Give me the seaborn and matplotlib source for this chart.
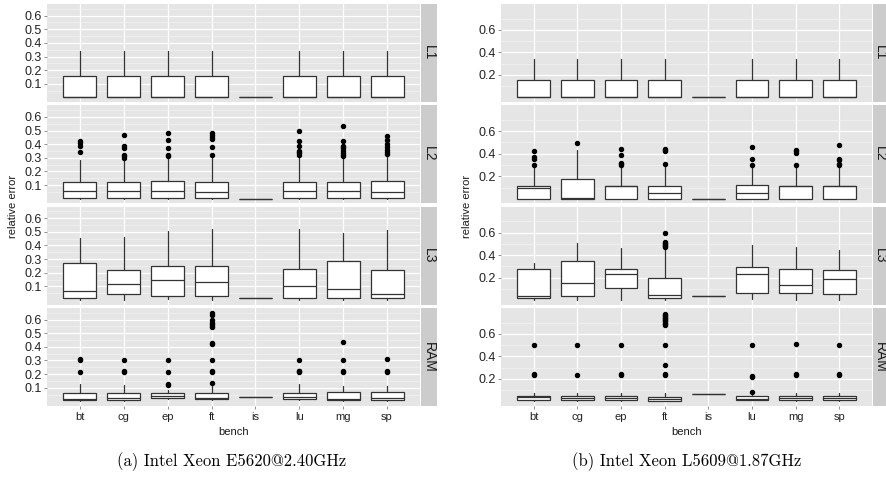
import matplotlib
matplotlib.use('Agg')
import matplotlib.pyplot as plt
import seaborn as sns

benches = ['bt', 'cg', 'ep', 'ft', 'is', 'lu', 'mg', 'sp']
levels = ['L1', 'L2', 'L3', 'RAM']

# box stats per bench: [whisker low, q1, median, q3, whisker high]
# (a) Intel Xeon E5620@2.40GHz
e5620_L1 = [[0.0, 0.003, 0.003, 0.155, 0.337]] * 4 + [[0.0, 0.0, 0.0, 0.0, 0.0]] + \
           [[0.0, 0.003, 0.003, 0.155, 0.337]] * 3
e5620_L1_out = [[]] * 8
e5620_L2 = [[0.0, 0.005, 0.055, 0.125, 0.285], [0.0, 0.005, 0.055, 0.12, 0.29],
            [0.0, 0.005, 0.06, 0.13, 0.30], [0.0, 0.005, 0.05, 0.125, 0.30],
            [0.0, 0.0, 0.0, 0.0, 0.0], [0.0, 0.005, 0.055, 0.125, 0.30],
            [0.0, 0.005, 0.06, 0.125, 0.30], [0.0, 0.005, 0.05, 0.13, 0.31]]
e5620_L2_out = [[0.34, 0.385, 0.41, 0.42], [0.30, 0.31, 0.32, 0.37, 0.385, 0.47],
                [0.31, 0.32, 0.37, 0.43, 0.485], [0.32, 0.38, 0.44, 0.455, 0.47, 0.48],
                [], [0.32, 0.335, 0.345, 0.35, 0.39, 0.42, 0.50],
                [0.31, 0.32, 0.335, 0.35, 0.37, 0.38, 0.39, 0.42, 0.535],
                [0.33, 0.345, 0.36, 0.38, 0.40, 0.43, 0.46]]
e5620_L3 = [[0.004, 0.018, 0.064, 0.275, 0.458], [0.004, 0.047, 0.119, 0.22, 0.463],
            [0.005, 0.033, 0.15, 0.249, 0.508], [0.004, 0.03, 0.136, 0.251, 0.523],
            [0.018, 0.018, 0.018, 0.018, 0.018], [0.004, 0.018, 0.105, 0.227, 0.523],
            [0.004, 0.018, 0.08, 0.288, 0.494], [0.004, 0.018, 0.047, 0.222, 0.516]]
e5620_L3_out = [[]] * 8
e5620_RAM = [[0.005, 0.007, 0.017, 0.063, 0.124], [0.005, 0.007, 0.024, 0.063, 0.119],
             [0.02, 0.024, 0.041, 0.063, 0.087], [0.01, 0.017, 0.024, 0.063, 0.114],
             [0.035, 0.035, 0.035, 0.035, 0.035], [0.01, 0.02, 0.03, 0.065, 0.125],
             [0.005, 0.012, 0.02, 0.07, 0.115], [0.005, 0.01, 0.025, 0.07, 0.11]]
e5620_RAM_out = [[0.215, 0.305, 0.31], [0.215, 0.22, 0.305], [0.12, 0.13, 0.215, 0.305],
                 [0.138, 0.215, 0.22, 0.305, 0.42, 0.43, 0.545, 0.555, 0.565, 0.575, 0.60, 0.63, 0.65],
                 [], [0.215, 0.22, 0.225, 0.305], [0.215, 0.225, 0.305, 0.435],
                 [0.215, 0.225, 0.31]]

# (b) Intel Xeon L5609@1.87GHz
l5609_L1 = [[0.0, 0.0, 0.0, 0.156, 0.34]] * 4 + [[0.0, 0.0, 0.0, 0.0, 0.0]] + \
           [[0.0, 0.0, 0.0, 0.156, 0.34]] * 3
l5609_L1_out = [[]] * 8
l5609_L2 = [[0.0, 0.0, 0.095, 0.118, 0.29], [0.0, 0.0, 0.005, 0.175, 0.43],
            [0.0, 0.0, 0.11, 0.112, 0.29], [0.0, 0.0, 0.05, 0.11, 0.29],
            [0.0, 0.0, 0.0, 0.0, 0.0], [0.0, 0.0, 0.05, 0.12, 0.29],
            [0.0, 0.0, 0.11, 0.115, 0.30], [0.0, 0.0, 0.11, 0.115, 0.29]]
l5609_L2_out = [[0.30, 0.35, 0.37, 0.425], [0.495], [0.30, 0.31, 0.32, 0.39, 0.44],
                [0.31, 0.42, 0.435, 0.445], [], [0.30, 0.35, 0.46],
                [0.30, 0.41, 0.42, 0.43], [0.30, 0.31, 0.34, 0.35, 0.475]]
l5609_L3 = [[0.003, 0.018, 0.038, 0.274, 0.332], [0.003, 0.035, 0.156, 0.35, 0.503],
            [0.003, 0.109, 0.23, 0.274, 0.465], [0.003, 0.02, 0.047, 0.2, 0.465],
            [0.032, 0.032, 0.032, 0.032, 0.032], [0.009, 0.062, 0.23, 0.297, 0.488],
            [0.003, 0.065, 0.135, 0.279, 0.468], [0.003, 0.053, 0.185, 0.265, 0.444]]
l5609_L3_out = [[], [], [], [0.47, 0.48, 0.49, 0.50, 0.51, 0.52, 0.594], [], [], [], []]
l5609_RAM = [[0.005, 0.016, 0.037, 0.052, 0.075], [0.005, 0.016, 0.028, 0.046, 0.075],
             [0.005, 0.016, 0.028, 0.048, 0.075], [0.0, 0.0, 0.02, 0.043, 0.075],
             [0.067, 0.067, 0.067, 0.067, 0.067], [0.01, 0.016, 0.025, 0.045, 0.06],
             [0.005, 0.016, 0.028, 0.046, 0.075], [0.005, 0.016, 0.028, 0.046, 0.075]]
l5609_RAM_out = [[0.235, 0.24, 0.505], [0.23, 0.505], [0.235, 0.24, 0.505],
                 [0.235, 0.24, 0.324, 0.505, 0.68, 0.69, 0.70, 0.71, 0.72, 0.73,
                  0.74, 0.75, 0.76, 0.77, 0.78],
                 [], [0.08, 0.22, 0.225, 0.505], [0.235, 0.24, 0.51], [0.235, 0.24, 0.505]]

sns.set_theme(style='darkgrid', rc={'axes.facecolor': '#E5E5E5', 'grid.color': 'white'})
plt.rcParams['font.family'] = ['Liberation Sans', 'DejaVu Sans']

W, H = 887, 484
fig = plt.figure(figsize=(W / 100, H / 100), dpi=100)

row_tops = [4, 105.3, 206.6, 307.9]
row_h = 98


def px_axes(x0, y0, x1, y1):
    return fig.add_axes([x0 / W, 1 - y1 / H, (x1 - x0) / W, (y1 - y0) / H])


def draw_panel(x0, x1, s0, s1, boxes, outs, ylim, major, minor, caption, cap_x, ylab_x):
    for i, lev in enumerate(levels):
        top = row_tops[i]
        ax = px_axes(x0, top, x1, top + row_h)
        stats = []
        for b, o in zip(boxes[i], outs[i]):
            stats.append({'whislo': b[0], 'q1': b[1], 'med': b[2], 'q3': b[3],
                          'whishi': b[4], 'fliers': o})
        ax.bxp(stats, positions=range(len(benches)), widths=0.75, patch_artist=True,
               showcaps=False,
               boxprops=dict(facecolor='white', edgecolor='#333333', linewidth=0.9),
               medianprops=dict(color='#333333', linewidth=0.9),
               whiskerprops=dict(color='#333333', linewidth=0.9),
               flierprops=dict(marker='o', markerfacecolor='black', markeredgecolor='black',
                               markersize=2.9))
        ax.set_xlim(-0.75, len(benches) - 0.25)
        ax.set_ylim(*ylim)
        ax.set_yticks(major)
        ax.set_yticklabels([f'{v:.1f}' for v in major])
        ax.set_yticks(minor, minor=True)
        ax.set_xticks(range(len(benches)))
        ax.grid(which='major', color='white', linewidth=0.9)
        ax.grid(which='minor', color='#F2F2F2', linewidth=0.5)
        ax.tick_params(which='minor', length=0)
        ax.tick_params(axis='y', which='major', length=2.5, width=0.6, color='#7F7F7F',
                       pad=1.5, labelsize=9, labelcolor='#222222', left=True)
        for sp in ax.spines.values():
            sp.set_visible(False)
        if i == len(levels) - 1:
            ax.set_xticklabels(benches)
            ax.tick_params(axis='x', which='major', length=2.5, width=0.6, color='#7F7F7F',
                           pad=2, labelsize=8, labelcolor='#222222', bottom=True)
        else:
            ax.set_xticklabels([])
            ax.tick_params(axis='x', length=0)
        ax.set_xlabel('')
        ax.set_ylabel('')

        st = px_axes(s0, top, s1, top + row_h)
        st.set_facecolor('#CCCCCC')
        st.grid(False)
        st.set_xticks([])
        st.set_yticks([])
        for sp in st.spines.values():
            sp.set_visible(False)
        st.text(0.5, 0.5, lev, rotation=270, ha='center', va='center', fontsize=10,
                color='#1A1A1A', transform=st.transAxes)

    fig.text((x0 + x1) / 2 / W, 1 - 432 / H, 'bench', ha='center', va='center',
             fontsize=8, color='#1A1A1A')
    fig.text(ylab_x / W, 1 - 206 / H, 'relative error', rotation=90, ha='center',
             va='center', fontsize=8, color='#1A1A1A')
    fig.text(cap_x / W, 1 - 462 / H, caption, ha='center', va='center', fontsize=12,
             color='black', family=['cmr10', 'DejaVu Serif'])


draw_panel(47, 420, 421.5, 437,
           [e5620_L1, e5620_L2, e5620_L3, e5620_RAM],
           [e5620_L1_out, e5620_L2_out, e5620_L3_out, e5620_RAM_out],
           (-0.033, 0.685), [0.1, 0.2, 0.3, 0.4, 0.5, 0.6],
           [0.05, 0.15, 0.25, 0.35, 0.45, 0.55, 0.65],
           '(a) Intel Xeon E5620@2.40GHz', 232, 13)

draw_panel(501, 872, 873.5, 887,
           [l5609_L1, l5609_L2, l5609_L3, l5609_RAM],
           [l5609_L1_out, l5609_L2_out, l5609_L3_out, l5609_RAM_out],
           (-0.04, 0.83), [0.2, 0.4, 0.6], [0.1, 0.3, 0.5, 0.7],
           '(b) Intel Xeon L5609@1.87GHz', 687, 467)

fig.savefig('out.png', dpi=100, facecolor='white')
